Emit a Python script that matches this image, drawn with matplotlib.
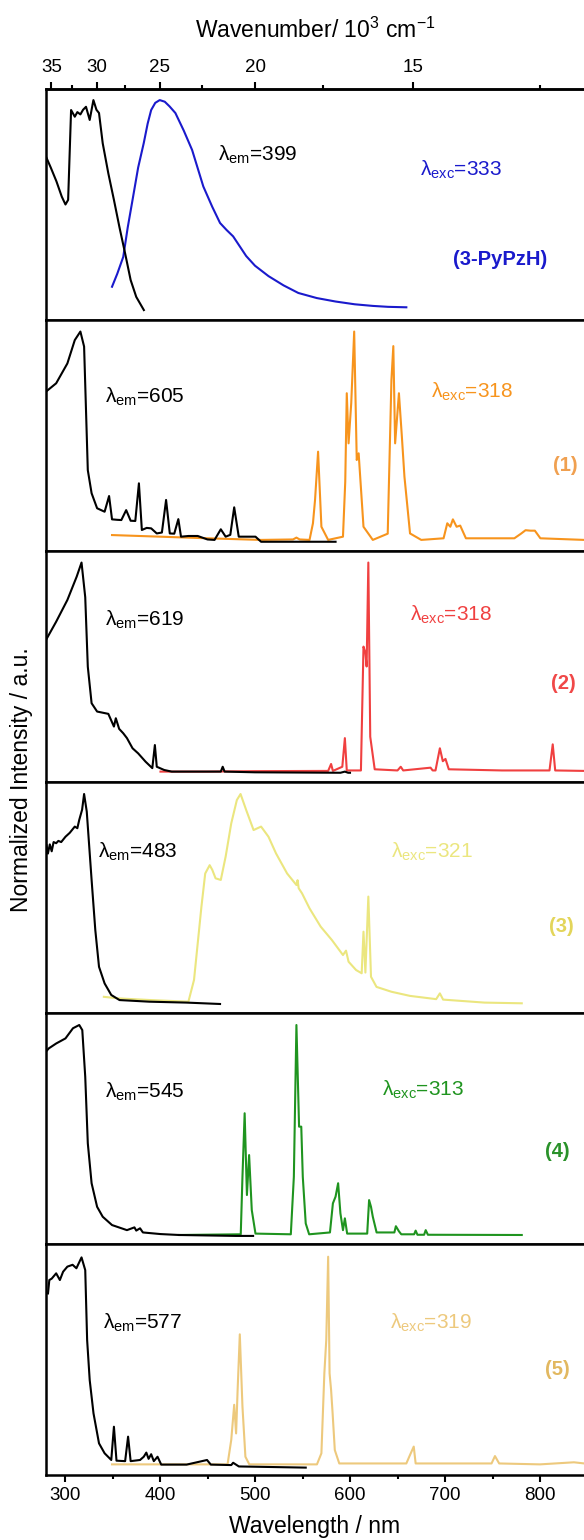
import numpy as np
import matplotlib
matplotlib.use("Agg")
import matplotlib.pyplot as plt
from matplotlib.ticker import MultipleLocator, FixedLocator

# ---- data (wavelength in nm, intensity normalised to panel height) ----
# (3-PyPzH)
exc0_x = [280, 285, 291, 296.6, 300.5, 303.3, 306.4, 310.3, 313, 316.2, 319, 322.1, 326, 329.9,
          333.1, 335.8, 339.7, 345.6, 351.5, 357.4, 363.3, 369.1, 375, 383]
exc0_y = [0.707, 0.66, 0.60, 0.534, 0.50, 0.52, 0.909, 0.88, 0.90, 0.89, 0.91, 0.923, 0.866, 0.952,
          0.91, 0.896, 0.765, 0.635, 0.52, 0.40, 0.288, 0.173, 0.10, 0.043]
em0_x = [349.5, 355, 361.3, 366, 371.1, 377, 382.9, 387, 390.7, 395, 399.7, 405, 410, 416.2, 425,
         433.8, 445.6, 455, 463.2, 470, 477, 490.7, 500, 514.2, 530, 545.6, 565, 584.8, 605, 624,
         640, 659.3]
em0_y = [0.144, 0.20, 0.273, 0.40, 0.52, 0.66, 0.766, 0.85, 0.909, 0.94, 0.952, 0.945, 0.925, 0.896,
         0.82, 0.736, 0.578, 0.49, 0.42, 0.39, 0.362, 0.277, 0.235, 0.19, 0.15, 0.117, 0.095, 0.08,
         0.068, 0.061, 0.057, 0.055]

# (1)
exc1_x = [280, 290.7, 302.5, 310.3, 316.2, 320.1, 324, 328, 333.8, 341.7, 346.4, 349.5, 355, 359.3,
          364.4, 369.1, 374, 377.8, 380.9, 386, 390.7, 396.6, 402, 406.4, 410.3, 415, 419.3, 422.1,
          430, 439.7, 450, 457.4, 464, 469.1, 474, 478.1, 482.9, 490, 500.5, 506.4, 540, 584.8]
exc1_y = [0.69, 0.726, 0.812, 0.913, 0.95, 0.885, 0.35, 0.25, 0.185, 0.17, 0.238, 0.137, 0.135,
          0.134, 0.177, 0.131, 0.13, 0.293, 0.091, 0.10, 0.098, 0.076, 0.08, 0.221, 0.076, 0.075,
          0.138, 0.062, 0.065, 0.065, 0.05, 0.048, 0.094, 0.062, 0.07, 0.189, 0.062, 0.062, 0.062,
          0.04, 0.04, 0.04]
em1_x = [349.5, 400, 450, 506.4, 540, 543.6, 547, 557.4, 561, 563.2, 566.4, 569.9, 577, 592.6, 595,
         596.6, 598.5, 601.3, 604.4, 607.1, 609.1, 614.2, 624, 639.7, 643.6, 645.6, 647.5, 651.5,
         654.6, 657.3, 663.2, 675, 698.5, 702.4, 705.6, 708.3, 712.2, 716, 722, 773, 780, 784.8, 790,
         794.6, 800.4, 846.7, 880]
em1_y = [0.069, 0.062, 0.055, 0.048, 0.05, 0.058, 0.05, 0.048, 0.12, 0.221, 0.43, 0.105, 0.048,
         0.062, 0.3, 0.683, 0.466, 0.64, 0.95, 0.394, 0.423, 0.105, 0.048, 0.075, 0.74, 0.887,
         0.466, 0.683, 0.495, 0.322, 0.076, 0.048, 0.055, 0.12, 0.105, 0.137, 0.105, 0.11, 0.055,
         0.055, 0.075, 0.09, 0.088, 0.088, 0.055, 0.048, 0.05]

# (2)
exc2_x = [280, 290.7, 302.5, 312.3, 317.4, 321.3, 324, 328, 333.8, 345.6, 351.5, 353.5, 357, 361.3,
          365.2, 371.1, 377, 384.8, 391.9, 394.6, 396.6, 404.4, 412.3, 464, 466, 468, 500, 590,
          594.6, 598, 600]
exc2_y = [0.615, 0.694, 0.788, 0.889, 0.95, 0.80, 0.499, 0.341, 0.305, 0.295, 0.24, 0.276, 0.23,
          0.211, 0.19, 0.146, 0.124, 0.088, 0.06, 0.16, 0.066, 0.052, 0.045, 0.045, 0.066, 0.045,
          0.042, 0.04, 0.045, 0.04, 0.04]
em2_x = [400.5, 450, 500, 577, 580.1, 582, 591.9, 594.6, 596.6, 611.5, 614.2, 616.2, 617.5, 619.3,
         621.3, 626, 650, 653.4, 656, 684.8, 687, 690, 694.6, 697.7, 700.5, 704, 760, 810, 813.4,
         816, 846.7, 880]
em2_y = [0.045, 0.045, 0.047, 0.048, 0.078, 0.048, 0.066, 0.19, 0.05, 0.05, 0.586, 0.56, 0.5, 0.95,
         0.196, 0.055, 0.05, 0.066, 0.05, 0.062, 0.05, 0.05, 0.146, 0.09, 0.1, 0.055, 0.05, 0.05,
         0.163, 0.05, 0.048, 0.048]

# (3)
exc3_x = [280.5, 282, 284, 286, 288, 290.7, 293, 296, 300.5, 305, 310.3, 313, 315, 318, 320.1,
          322.9, 328, 331.9, 335.8, 341.7, 348.7, 357.4, 388.7, 428, 463.2]
exc3_y = [0.727, 0.69, 0.73, 0.70, 0.74, 0.735, 0.745, 0.74, 0.763, 0.78, 0.807, 0.80, 0.836, 0.88,
          0.948, 0.872, 0.576, 0.359, 0.2, 0.128, 0.078, 0.056, 0.049, 0.045, 0.039]
em3_x = [340.9, 357.4, 390, 429.9, 435.8, 443.6, 447.6, 452.3, 455, 458.5, 464, 469.1, 475, 480.9,
         484.8, 490.7, 498.5, 506.4, 514.2, 522.1, 533.8, 543.6, 544.8, 546, 549.5, 557.4, 569.1,
         580.9, 592.6, 595.8, 598.5, 606.4, 612.3, 614.2, 616.2, 619.3, 622.1, 627.9, 643.6, 663.2,
         690.7, 694.6, 698, 741.6, 780.8]
em3_y = [0.07, 0.063, 0.056, 0.049, 0.143, 0.46, 0.604, 0.64, 0.62, 0.583, 0.576, 0.677, 0.821,
         0.922, 0.948, 0.879, 0.792, 0.807, 0.763, 0.691, 0.604, 0.554, 0.575, 0.54, 0.518, 0.453,
         0.374, 0.316, 0.251, 0.27, 0.222, 0.186, 0.172, 0.352, 0.175, 0.504, 0.157, 0.113, 0.092,
         0.074, 0.06, 0.085, 0.058, 0.045, 0.042]

# (4)
exc4_x = [280, 283, 290.7, 300.5, 308.4, 315, 318.2, 321.3, 324, 328, 333.8, 339.7, 349.5, 365.2,
          373.1, 375, 379, 382, 400.5, 420.1, 480, 490, 498]
exc4_y = [0.833, 0.847, 0.868, 0.89, 0.934, 0.948, 0.926, 0.724, 0.436, 0.263, 0.161, 0.118, 0.082,
          0.06, 0.072, 0.058, 0.068, 0.05, 0.043, 0.039, 0.035, 0.035, 0.035]
em4_x = [420.1, 485, 486.8, 489.1, 491.5, 493.8, 496.6, 500.5, 537.7, 540.9, 543.6, 546.4, 548.7,
         550.3, 553.4, 557, 578.9, 582, 584.8, 587.5, 589.9, 592.6, 594.6, 597, 618.1, 620.1, 622.1,
         624, 628, 646.7, 648.3, 651.5, 654, 667.5, 669.1, 671, 678, 679.7, 682, 780.8]
em4_y = [0.039, 0.042, 0.291, 0.566, 0.212, 0.385, 0.147, 0.045, 0.042, 0.291, 0.948, 0.508, 0.508,
         0.291, 0.089, 0.042, 0.05, 0.176, 0.205, 0.263, 0.133, 0.06, 0.111, 0.045, 0.045, 0.19,
         0.161, 0.118, 0.05, 0.05, 0.077, 0.055, 0.042, 0.042, 0.058, 0.04, 0.04, 0.06, 0.04, 0.039]

# (5)
exc5_x = [282.1, 283.5, 286, 290.7, 294.6, 298, 302.5, 308, 312, 317.4, 321.3, 323.3, 326, 330,
          335.8, 341.7, 348.7, 351.5, 354.2, 363.3, 366.4, 369.1, 379, 382.9, 385.6, 388, 390.7,
          393.5, 397.4, 401.3, 428, 449.5, 453.5, 475, 477, 483, 553.4]
exc5_y = [0.786, 0.844, 0.85, 0.873, 0.844, 0.88, 0.902, 0.91, 0.895, 0.942, 0.887, 0.584, 0.411,
          0.267, 0.137, 0.094, 0.065, 0.209, 0.062, 0.06, 0.166, 0.06, 0.065, 0.079, 0.097, 0.07,
          0.09, 0.06, 0.079, 0.045, 0.045, 0.065, 0.045, 0.043, 0.053, 0.037, 0.032]
em5_x = [349.5, 471.1, 475, 478.1, 480.1, 481.7, 484, 486.8, 489.9, 494, 565.2, 569.9, 573, 575,
         577, 578.5, 580.1, 581.7, 584, 588.7, 659.3, 663.2, 667.1, 669.1, 749, 752.6, 757, 800,
         835.7, 846.7, 880]
em5_y = [0.046, 0.046, 0.152, 0.304, 0.18, 0.368, 0.609, 0.296, 0.079, 0.046, 0.046, 0.094, 0.44,
         0.584, 0.945, 0.44, 0.368, 0.267, 0.108, 0.05, 0.05, 0.087, 0.123, 0.05, 0.05, 0.082, 0.05,
         0.046, 0.055, 0.05, 0.05]

names = ["(3-PyPzH)", "(1)", "(2)", "(3)", "(4)", "(5)"]
em_wl = [399, 605, 619, 483, 545, 577]
exc_wl = [333, 318, 318, 321, 313, 319]
colors = ["#1a1acc", "#f7941d", "#f04040", "#ebe67f", "#1f941f", "#edc97d"]
name_colors = ["#1a1acc", "#f0a050", "#f04848", "#e3d55a", "#2a922a", "#e2b860"]

# label positions (nm, fraction of panel height)
em_pos = [(461, 0.714), (342, 0.668), (342, 0.70), (335, 0.698), (342, 0.659), (340, 0.657)]
exc_pos = [(674, 0.649), (685, 0.69), (663, 0.723), (643, 0.698), (634, 0.667), (642, 0.657)]
name_pos = [(758, 0.26), (827, 0.372), (825, 0.427), (822, 0.374), (818, 0.40), (818, 0.455)]

exc_data = [(exc0_x, exc0_y), (exc1_x, exc1_y), (exc2_x, exc2_y),
            (exc3_x, exc3_y), (exc4_x, exc4_y), (exc5_x, exc5_y)]
em_data = [(em0_x, em0_y), (em1_x, em1_y), (em2_x, em2_y),
           (em3_x, em3_y), (em4_x, em4_y), (em5_x, em5_y)]

plt.rcParams["font.family"] = ["Liberation Sans", "DejaVu Sans"]
plt.rcParams["mathtext.fontset"] = "custom"
plt.rcParams["mathtext.rm"] = "Liberation Sans"
plt.rcParams["mathtext.it"] = "Liberation Sans:italic"
plt.rcParams["mathtext.bf"] = "Liberation Sans:bold"

W, H = 584, 1540
fig = plt.figure(figsize=(W / 100, H / 100), dpi=100)

top_px, panel_px = 89, 231
left = 46 / W
width = 570 * 0.95 / W   # 280-850 nm at 0.95 px/nm, right spine just off the figure

axes = []
for i in range(6):
    y0 = 1 - (top_px + panel_px * (i + 1)) / H
    ax = fig.add_axes([left, y0, width, panel_px / H])
    axes.append(ax)

    ax.plot(*em_data[i], color=colors[i], lw=1.5, zorder=2)
    ax.plot(*exc_data[i], color="black", lw=1.5, zorder=3)

    ax.text(*em_pos[i], "λ$_{\\mathrm{em}}$=%d" % em_wl[i], fontsize=15, color="black",
            ha="left", va="center")
    ax.text(*exc_pos[i], "λ$_{\\mathrm{exc}}$=%d" % exc_wl[i], fontsize=15, color=colors[i],
            ha="left", va="center")
    ax.text(*name_pos[i], names[i], fontsize=14.5, fontweight="bold", color=name_colors[i],
            ha="center", va="center")

    ax.set_xlim(280, 850)
    ax.set_ylim(0, 1)
    ax.set_yticks([])
    for sp in ax.spines.values():
        sp.set_linewidth(1.8)
    if i < 5:
        ax.tick_params(axis="x", which="both", bottom=False, labelbottom=False)

bottom_ax = axes[-1]
bottom_ax.xaxis.set_major_locator(MultipleLocator(100))
bottom_ax.xaxis.set_minor_locator(MultipleLocator(50))
bottom_ax.tick_params(axis="x", which="major", direction="out", length=5, width=1.5,
                      labelsize=13.5, pad=4)
bottom_ax.tick_params(axis="x", which="minor", direction="out", length=3, width=1.5)


def to_wavenumber(x):
    x = np.asarray(x, dtype=float)
    with np.errstate(divide="ignore"):
        return 1e4 / x


sec = axes[0].secondary_xaxis("top", functions=(to_wavenumber, to_wavenumber))
sec.xaxis.set_major_locator(FixedLocator([35, 30, 25, 20, 15]))
sec.xaxis.set_minor_locator(FixedLocator([32.5, 27.5, 22.5, 17.5, 12.5]))
sec.tick_params(axis="x", which="major", direction="out", length=5, width=1.5,
                labelsize=13.5, pad=4)
sec.tick_params(axis="x", which="minor", direction="out", length=3, width=1.5)
sec.spines["top"].set_linewidth(1.8)

fig.text(315 / W, 1 - 30 / H, "Wavenumber/ 10$^{3}$ cm$^{-1}$", fontsize=16.5,
         ha="center", va="center")
fig.text(315 / W, 1 - 1527 / H, "Wavelength / nm", fontsize=16.5, ha="center", va="center")
fig.text(22 / W, 1 - 780 / H, "Normalized Intensity / a.u.", fontsize=16.5, rotation=90,
         ha="center", va="center")

fig.savefig("out.png", dpi=100)
